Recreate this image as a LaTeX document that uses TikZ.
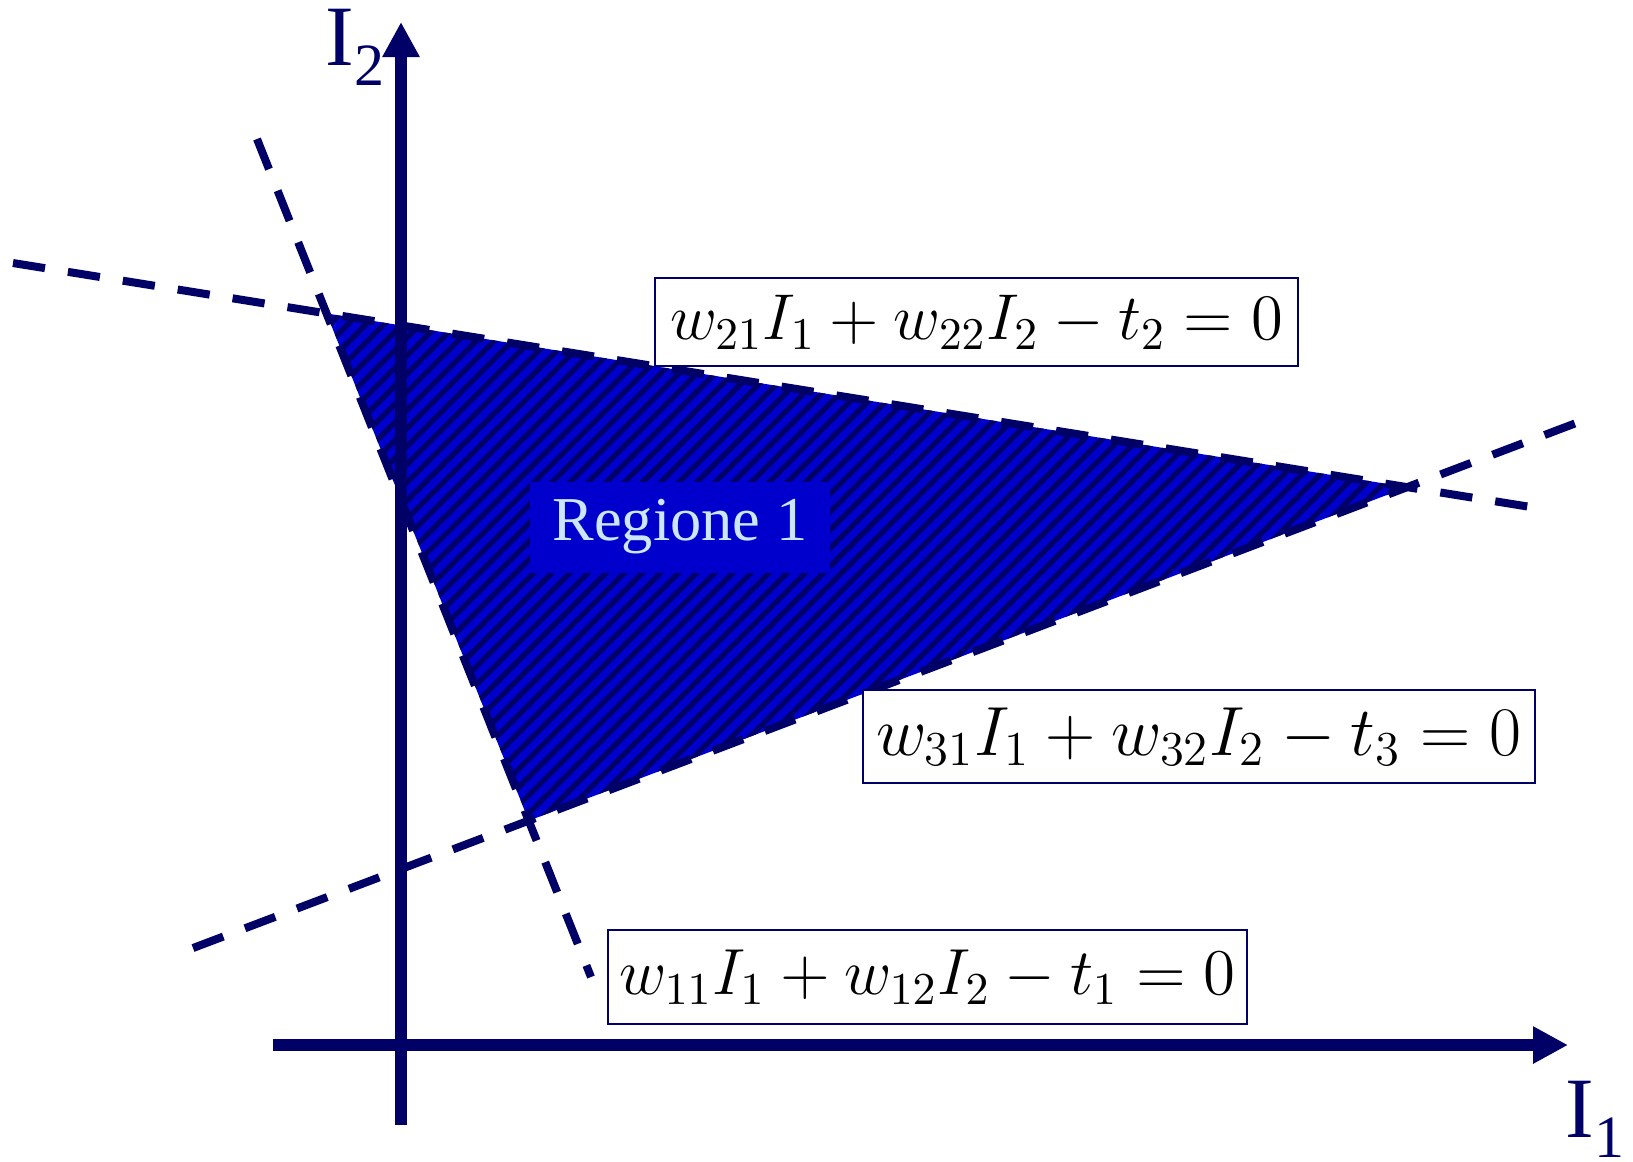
\RequirePackage{fix-cm}
\documentclass[tikz,border=0pt]{standalone}
\usepackage[no-math]{fontspec}
\setmainfont{Liberation Serif}
\usetikzlibrary{arrows.meta,patterns.meta}
\definecolor{navy}{RGB}{0,0,102}
\definecolor{fillblue}{RGB}{0,0,204}
\definecolor{lightblue}{RGB}{204,230,255}
\tikzset{
  ax/.style={-{Triangle[length=8.75pt,width=8.75pt]}, line width=3pt, color=navy},
  bound/.style={line width=2pt, dash pattern=on 8.1pt off 5.8pt, color=navy},
  eqbox/.style={rectangle, draw=navy, line width=0.5pt, fill=white, inner sep=0pt, text=black},
  axlab/.style={inner sep=0pt, text=navy, font=\fontsize{21.5}{24}\selectfont},
  reg/.style={rectangle, fill=fillblue, text=lightblue, inner sep=0pt, minimum width=75pt, minimum height=22.75pt, font=\fontsize{15.6}{18}\selectfont}
}
\begin{document}
\begin{tikzpicture}[x=0.25pt, y=-0.25pt]
\useasboundingbox (0,0) rectangle (1633,1161);
\coordinate (a1) at (257,139);
\coordinate (b1) at (591,977);
\coordinate (a2) at (13,263);
\coordinate (b2) at (1537,508);
\coordinate (a3) at (193,948);
\coordinate (b3) at (1584,420);
\coordinate (p12) at (intersection of a1--b1 and a2--b2);
\coordinate (p23) at (intersection of a2--b2 and a3--b3);
\coordinate (p13) at (intersection of a1--b1 and a3--b3);
\path[fill=fillblue, postaction={pattern={Lines[angle=45,distance=3.2pt,line width=1.3pt]}, pattern color=navy}] (p12) -- (p23) -- (p13) -- cycle;
\node[reg] (r1) at (680,527) {Regione 1};
\draw[bound] (a1) -- (b1);
\draw[bound] (a2) -- (b2);
\draw[bound] (a3) -- (b3);
\coordinate (o1) at (273,1045);
\coordinate (e1) at (1568,1045);
\coordinate (o2) at (401,1125);
\coordinate (e2) at (401,22);
\draw[ax] (o1) -- (e1);
\draw[ax] (o2) -- (e2);
\node[eqbox, minimum width=160.75pt, minimum height=22pt, font=\fontsize{16.2}{18}\selectfont] (eq2) at (976.5,322) {$w_{21}I_1+w_{22}I_2-t_2=0$};
\node[eqbox, minimum width=168pt, minimum height=23.25pt, font=\fontsize{17.4}{20}\selectfont] (eq3) at (1199,736.5) {$w_{31}I_1+w_{32}I_2-t_3=0$};
\node[eqbox, minimum width=159.75pt, minimum height=23.5pt, font=\fontsize{16.3}{19}\selectfont] (eq1) at (927.5,977) {$w_{11}I_1+w_{12}I_2-t_1=0$};
\node[axlab, anchor=base west] (lab2) at (325,65) {I\raisebox{-5pt}{\fontsize{15}{15}\selectfont 2}};
\node[axlab, anchor=base west] (lab1) at (1565,1137) {I\raisebox{-5pt}{\fontsize{15}{15}\selectfont 1}};
\end{tikzpicture}
\end{document}
